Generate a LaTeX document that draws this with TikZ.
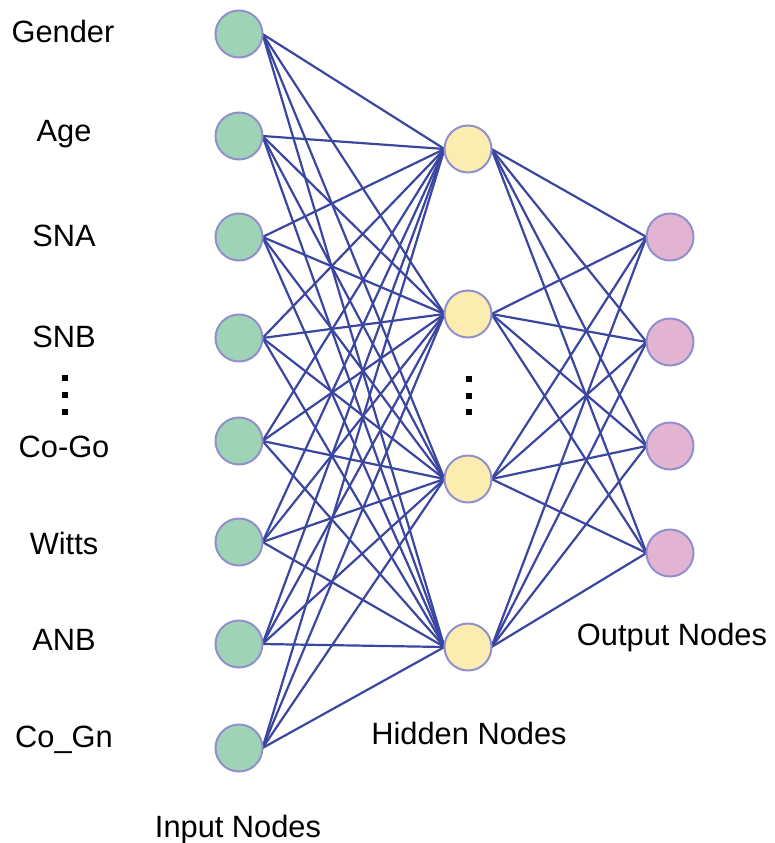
\documentclass[tikz,border=0pt]{standalone}
\usepackage{fontspec}
\setmainfont{Liberation Sans}
\usetikzlibrary{backgrounds}
\definecolor{inGreen}{RGB}{158,211,182}
\definecolor{hidYellow}{RGB}{251,237,176}
\definecolor{outPink}{RGB}{226,180,210}
\definecolor{ringLav}{RGB}{146,144,204}
\definecolor{wireBlue}{RGB}{58,70,160}
\begin{document}
\begin{tikzpicture}[x=1pt,y=-1pt,
  neuron/.style={circle,draw=ringLav,line width=2pt,minimum size=47pt,inner sep=0pt,outer sep=0pt},
  innode/.style={neuron,fill=inGreen},
  hidnode/.style={neuron,fill=hidYellow},
  outnode/.style={neuron,fill=outPink},
  wire/.style={draw=wireBlue,line width=2.2pt},
  lbl/.style={font=\fontsize{30.8}{35}\selectfont,text=black,inner sep=0pt,anchor=base},
  dot/.style={fill=black,minimum size=6pt,inner sep=0pt,outer sep=0pt,rectangle}
]
\useasboundingbox (0,0) rectangle (774,843);

% input layer
\foreach \y [count=\i] in {34,136,237,338,441,542,644,748}
  \node[innode] (in\i) at (239,\y) {};
% hidden layer
\foreach \y [count=\i] in {149,314,479,647}
  \node[hidnode] (h\i) at (468,\y) {};
% output layer
\foreach \y [count=\i] in {237,342,446,553}
  \node[outnode] (o\i) at (670,\y) {};

% fully connected weights, kept behind the circles
\begin{scope}[on background layer]
\foreach \i in {1,...,8}
  \foreach \j in {1,...,4}
    \draw[wire] (in\i.east) -- (h\j.west);
\foreach \j in {1,...,4}
  \foreach \k in {1,...,4}
    \draw[wire] (h\j.east) -- (o\k.west);
\end{scope}

% feature labels
\node[lbl] (tGender) at (63,43) {Gender};
\node[lbl] (tAge) at (64,141) {Age};
\node[lbl] (tSNA) at (64,246) {SNA};
\node[lbl] (tSNB) at (64,347) {SNB};
\node[lbl] (tCoGo) at (64,457) {Co-Go};
\node[lbl] (tWitts) at (64,554) {Witts};
\node[lbl] (tANB) at (64,650) {ANB};
\node[lbl] (tCoGn) at (64,747) {Co\_Gn};

% ellipsis marks
\node[dot] (da1) at (65,378) {};
\node[dot] (da2) at (65,395) {};
\node[dot] (da3) at (65,412) {};
\node[dot] (db1) at (469,379) {};
\node[dot] (db2) at (469,396) {};
\node[dot] (db3) at (469,412) {};

% layer captions
\node[lbl] (capIn) at (238,837) {Input Nodes};
\node[lbl] (capHid) at (469,744) {Hidden Nodes};
\node[lbl] (capOut) at (672,645) {Output Nodes};
\end{tikzpicture}
\end{document}
